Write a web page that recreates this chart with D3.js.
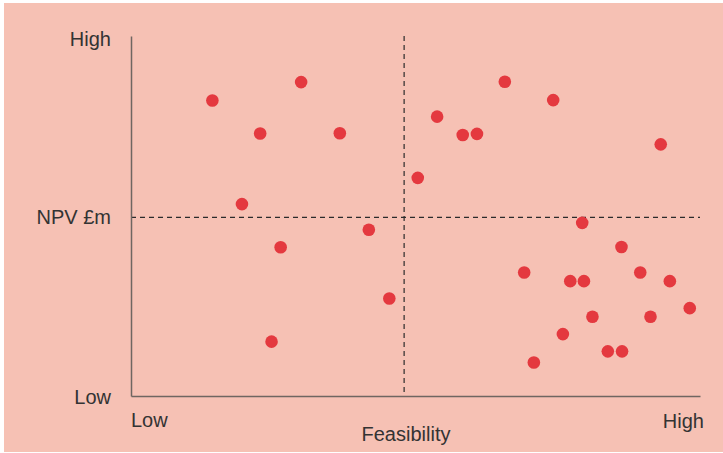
<!DOCTYPE html>
<html>
<head>
<meta charset="utf-8">
<script src="https://cdn.jsdelivr.net/npm/d3@7"></script>
<style>
  html, body { margin: 0; padding: 0; background: #ffffff; }
  svg { display: block; }
  text { font-family: "Liberation Sans", Arial, sans-serif; fill: #333333; }
</style>
</head>
<body>
<svg id="chart" width="723" height="453"></svg>
<script>
// Feasibility (0-100, Low to High)
const feasibility = [14.3, 29.9, 22.7, 36.7, 19.5, 26.3, 41.8, 45.4, 24.7,
  50.4, 53.8, 58.3, 60.8, 65.7, 74.2, 93.1, 79.3, 86.2, 69.1, 77.2,
  79.6, 89.5, 94.7, 98.2, 81.1, 91.3, 75.9, 83.8, 86.3, 70.8];
// NPV £m (0-100, Low to High)
const npv = [82.1, 87.2, 72.9, 73.0, 53.3, 41.3, 46.2, 27.1, 15.1,
  60.6, 77.6, 72.5, 72.8, 87.3, 82.2, 69.9, 48.1, 41.4, 34.3, 31.9,
  31.9, 34.3, 31.9, 24.4, 22.0, 22.0, 17.2, 12.4, 12.4, 9.3];
const midFeasibility = 48.0;
const midNpv = 49.6;
const yLabels = ["High", "NPV £m", "Low"];
const yLabelValues = [100, 49.6, 0];
const xLabels = ["Low", "High"];
const xTitle = "Feasibility";

const svg = d3.select("#chart");
svg.append("rect").attr("x", 4).attr("y", 3).attr("width", 719).attr("height", 449).attr("fill", "#f6c1b4");

const x = d3.scaleLinear().domain([0, 100]).range([131, 700]);
const y = d3.scaleLinear().domain([0, 100]).range([396, 36]);

// quadrant dashed lines
svg.append("line").attr("x1", x(midFeasibility)).attr("x2", x(midFeasibility))
  .attr("y1", y(100)).attr("y2", y(0))
  .attr("stroke", "#2b2b2b").attr("stroke-width", 1.2).attr("stroke-dasharray", "5,4");
svg.append("line").attr("x1", x(0)).attr("x2", x(100))
  .attr("y1", y(midNpv)).attr("y2", y(midNpv))
  .attr("stroke", "#2b2b2b").attr("stroke-width", 1.2).attr("stroke-dasharray", "5,4");

// axes lines
const yAxis = d3.axisLeft(y).tickValues([]).tickSizeOuter(0);
const xAxis = d3.axisBottom(x).tickValues([]).tickSizeOuter(0);
const gy = svg.append("g").attr("transform", `translate(${x(0)},0)`).call(yAxis);
const gx = svg.append("g").attr("transform", `translate(0,${y(0)})`).call(xAxis);
[gy, gx].forEach(g => g.select(".domain").attr("stroke", "#6f6661").attr("stroke-width", 1.5));

// y labels
svg.selectAll("text.ylab").data(yLabels).enter().append("text")
  .attr("class", "ylab")
  .attr("x", 111)
  .attr("y", (d, i) => i === 0 ? 46 : (i === 1 ? y(yLabelValues[i]) + 7 : 404))
  .attr("text-anchor", "end")
  .attr("font-size", 20)
  .text(d => d);

// x labels
svg.append("text").attr("x", x(0)).attr("y", 427).attr("font-size", 20).attr("text-anchor", "start").text(xLabels[0]);
svg.append("text").attr("x", 704).attr("y", 428).attr("font-size", 20).attr("text-anchor", "end").text(xLabels[1]);
svg.append("text").attr("x", 406).attr("y", 441).attr("font-size", 20).attr("text-anchor", "middle").text(xTitle);

// dots
svg.selectAll("circle.dot").data(feasibility).enter().append("circle")
  .attr("class", "dot")
  .attr("cx", d => x(d))
  .attr("cy", (d, i) => y(npv[i]))
  .attr("r", 6.3)
  .attr("fill", "#e4393f");
</script>
</body>
</html>
